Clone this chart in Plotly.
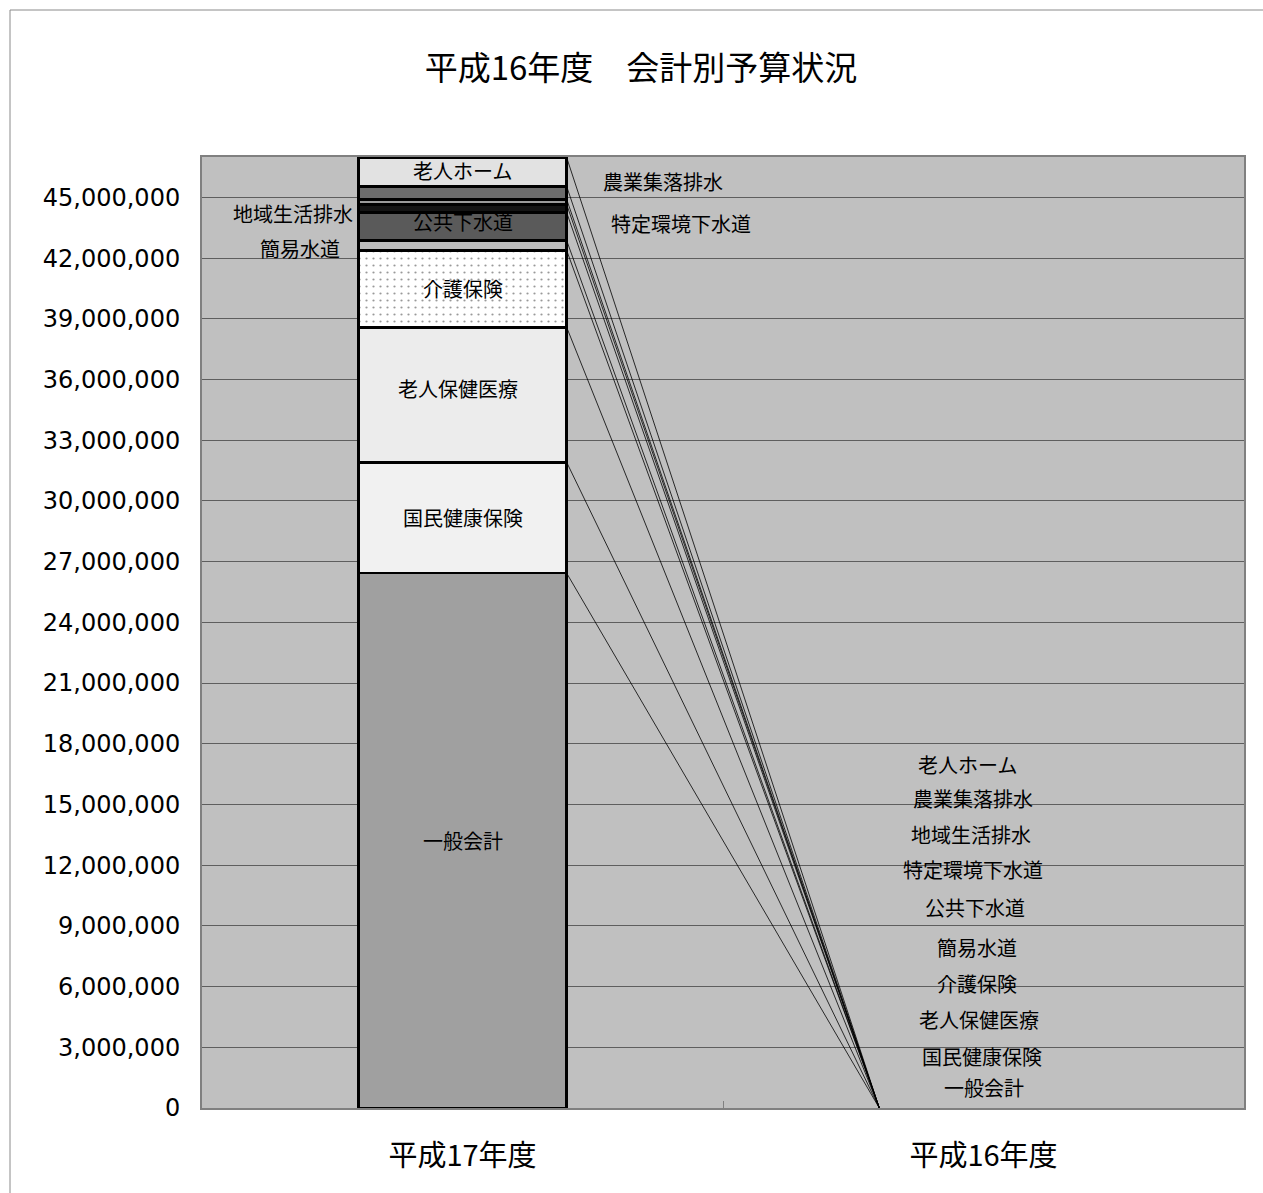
import numpy as np
import plotly.graph_objects as go

# 会計別予算額（円）
categories = ["平成17年度", "平成16年度"]
accounts = ["一般会計", "国民健康保険", "老人保健医療", "介護保険", "簡易水道",
            "公共下水道", "特定環境下水道", "地域生活排水", "農業集落排水", "老人ホーム"]
budget_h17 = [26430000, 5480000, 6670000, 3800000, 490000,
              1380000, 400000, 250000, 640000, 1430000]
budget_h16 = [0, 0, 0, 0, 0, 0, 0, 0, 0, 0]
y_ticks = list(range(0, 45000001, 3000000))

# 系列ごとの塗り
fills = {
    "一般会計": "#a0a0a0",
    "国民健康保険": "#f1f1f1",
    "老人保健医療": "#ececec",
    "介護保険": "#ffffff",
    "簡易水道": "#bcbcbc",
    "公共下水道": "#5a5a5a",
    "特定環境下水道": "#141414",
    "地域生活排水": "#9a9a9a",
    "農業集落排水": "#6c6c6c",
    "老人ホーム": "#e2e2e2",
}

JP = "Noto Sans CJK JP"
BAR_W = 0.4
xpos = [0, 1]

fig = go.Figure()
for i, name in enumerate(accounts):
    vals = [budget_h17[i], budget_h16[i]]
    marker = dict(color=fills[name], line=dict(color="black", width=[2.5, 0]))
    if name == "介護保険":
        marker["pattern"] = dict(shape=".", fgcolor="#333333", bgcolor="#ffffff",
                                 size=7, solidity=0.08)
    fig.add_trace(go.Bar(x=xpos, y=vals, width=BAR_W, name=name,
                         marker=marker, hoverinfo="name+y"))

# 系列線：各区分の上端を次の棒の左端へ結ぶ
tops17 = np.cumsum(budget_h17)
tops16 = np.cumsum(budget_h16)
for i in range(len(accounts)):
    fig.add_trace(go.Scatter(x=[xpos[0] + BAR_W / 2, xpos[1] - BAR_W / 2],
                             y=[tops17[i], tops16[i]], mode="lines",
                             line=dict(color="black", width=0.8),
                             hoverinfo="skip", showlegend=False))

# 平成17年度のラベル位置（区分中央からのずれ）
label17 = {
    "一般会計": dict(),
    "国民健康保険": dict(),
    "老人保健医療": dict(yshift=6, xshift=-5),
    "介護保険": dict(),
    "簡易水道": dict(x=-BAR_W / 2, xanchor="right", xshift=-16, yshift=-3),
    "公共下水道": dict(yshift=5),
    "特定環境下水道": dict(x=BAR_W / 2, xanchor="left", xshift=42, yshift=-15),
    "地域生活排水": dict(x=-BAR_W / 2, xanchor="right", xshift=-3, yshift=-11),
    "農業集落排水": dict(x=BAR_W / 2, xanchor="left", xshift=34, yshift=12),
    "老人ホーム": dict(yshift=2),
}
mids17 = tops17 - np.array(budget_h17) / 2
annotations = []
for i, name in enumerate(accounts):
    a = dict(x=0, y=mids17[i], xref="x", yref="y", text=name, showarrow=False,
             font=dict(family=JP, size=20, color="black"), yanchor="middle")
    a.update(label17[name])
    annotations.append(a)

# 平成16年度のラベル（値0の位置から上へ順に並べる）
stack_shift = [21, 52, 89, 125, 161, 201, 239, 274, 310, 344]
side_shift = [0, -2, -5, -7, -7, -9, -11, -13, -11, -16]
for i, name in enumerate(accounts):
    annotations.append(dict(x=xpos[1], y=tops16[i], xref="x", yref="y", text=name,
                            showarrow=False, yanchor="middle",
                            yshift=stack_shift[i], xshift=side_shift[i],
                            font=dict(family=JP, size=20, color="black")))

fig.update_layout(
    width=1263, height=1193,
    margin=dict(l=202, r=19, t=157, b=85),
    barmode="stack",
    showlegend=False,
    paper_bgcolor="white",
    plot_bgcolor="#c0c0c0",
    title=dict(text="平成16年度　会計別予算状況", x=641 / 1263, y=1 - 68 / 1193,
               xref="container", yref="container", xanchor="center",
               yanchor="middle", font=dict(family=JP, size=33, color="black")),
    annotations=annotations,
    shapes=[dict(type="rect", xref="paper", yref="paper",
                 x0=(10 - 202) / 1042, x1=(1280 - 202) / 1042,
                 y0=(1108 - 1210) / 951, y1=(1108 - 10) / 951,
                 line=dict(color="#8a8a8a", width=1), layer="below")],
)
fig.update_xaxes(
    range=[-0.5, 1.5], tickvals=xpos, ticktext=categories,
    tickfont=dict(family=JP, size=29, color="black"),
    ticks="outside", ticklen=21, tickcolor="rgba(0,0,0,0)",
    showgrid=False, zeroline=False,
    showline=True, linecolor="#808080", linewidth=2, mirror=True,
    minor=dict(tickmode="array", tickvals=[0.5], ticks="inside", ticklen=7,
               tickcolor="#808080", tickwidth=1, showgrid=False),
)
fig.update_yaxes(
    range=[0, 47000000], tickvals=y_ticks, tickformat=",",
    tickfont=dict(family="DejaVu Sans", size=24, color="black"),
    ticks="outside", ticklen=15, tickcolor="rgba(0,0,0,0)",
    showgrid=True, gridcolor="#5e5e5e", gridwidth=1, zeroline=False,
    showline=True, linecolor="#808080", linewidth=2, mirror=True,
)

fig.write_html("out.html")
